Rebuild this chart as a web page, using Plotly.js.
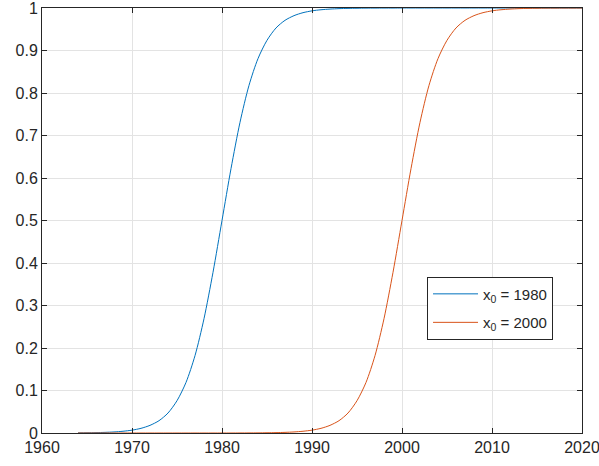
<!DOCTYPE html>
<html>
<head>
<meta charset="utf-8">
<script src="https://cdn.plot.ly/plotly-3.0.1.min.js"></script>
<style>
  html, body { margin: 0; padding: 0; background: #fff; }
  #chart { width: 599px; height: 466px; }
</style>
</head>
<body>
<div id="chart"></div>
<script>
// Years sampled along both curves
const years = [
  1964, 1965, 1966, 1967, 1968, 1969, 1970, 1971, 1972, 1973,
  1974, 1975, 1976, 1977, 1978, 1979, 1980, 1981, 1982, 1983,
  1984, 1985, 1986, 1987, 1988, 1989, 1990, 1991, 1992, 1993,
  1994, 1995, 1996, 1997, 1998, 1999, 2000, 2001, 2002, 2003,
  2004, 2005, 2006, 2007, 2008, 2009, 2010, 2011, 2012, 2013,
  2014, 2015, 2016, 2017, 2018, 2019, 2020
];

// S-curve centred on 1980
const curve1980 = [
  0.0003, 0.0006, 0.0009, 0.0015, 0.0025, 0.0041, 0.0067, 0.011, 0.018, 0.029,
  0.047, 0.076, 0.119, 0.182, 0.269, 0.378, 0.500, 0.622, 0.731, 0.818,
  0.881, 0.924, 0.953, 0.971, 0.982, 0.989, 0.9933, 0.9959, 0.9975, 0.9985,
  0.9991, 0.9994, 0.9997, 0.9998, 0.9999, 0.9999, 1.0, 1.0, 1.0, 1.0,
  1.0, 1.0, 1.0, 1.0, 1.0, 1.0, 1.0, 1.0, 1.0, 1.0,
  1.0, 1.0, 1.0, 1.0, 1.0, 1.0, 1.0
];

// S-curve centred on 2000
const curve2000 = [
  0.0, 0.0, 0.0, 0.0, 0.0, 0.0, 0.0, 0.0, 0.0, 0.0,
  0.0, 0.0, 0.0, 0.0, 0.0, 0.0, 0.0, 0.0, 0.0001, 0.0002,
  0.0003, 0.0006, 0.0009, 0.0015, 0.0025, 0.0041, 0.0067, 0.011, 0.018, 0.029,
  0.047, 0.076, 0.119, 0.182, 0.269, 0.378, 0.500, 0.622, 0.731, 0.818,
  0.881, 0.924, 0.953, 0.971, 0.982, 0.989, 0.9933, 0.9959, 0.9975, 0.9985,
  0.9991, 0.9994, 0.9997, 0.9998, 0.9999, 0.9999, 1.0
];

const seriesNames = ['x<sub>0</sub> = 1980', 'x<sub>0</sub> = 2000'];
const seriesColors = ['#0072BD', '#D95319'];

const xTicks = [1960, 1970, 1980, 1990, 2000, 2010, 2020];
const yTicks = [0, 0.1, 0.2, 0.3, 0.4, 0.5, 0.6, 0.7, 0.8, 0.9, 1];
const yTickText = ['0', '0.1', '0.2', '0.3', '0.4', '0.5', '0.6', '0.7', '0.8', '0.9', '1'];

const traces = [curve1980, curve2000].map((ys, i) => ({
  x: years,
  y: ys,
  type: 'scatter',
  mode: 'lines',
  name: seriesNames[i],
  legendgroup: 'g' + i,
  line: { color: seriesColors[i], width: 1, shape: 'spline', smoothing: 0.8 }
}));

const axisCommon = {
  showline: true,
  linecolor: '#262626',
  linewidth: 1,
  mirror: 'allticks',
  ticks: 'inside',
  ticklen: 5,
  tickwidth: 1,
  tickcolor: '#262626',
  showgrid: true,
  gridcolor: '#e3e3e3',
  gridwidth: 1,
  zeroline: false,
  ticklabeloverflow: 'allow',
  tickfont: { family: 'Liberation Sans, Arial, sans-serif', size: 16, color: '#262626' }
};

const layout = {
  width: 599,
  height: 466,
  margin: { l: 42, r: 17, t: 8, b: 33 },
  paper_bgcolor: '#ffffff',
  plot_bgcolor: '#ffffff',
  showlegend: true,
  xaxis: Object.assign({}, axisCommon, {
    range: [1960, 2020.0001],
    tickvals: xTicks,
    ticktext: xTicks.map(String)
  }),
  yaxis: Object.assign({}, axisCommon, {
    range: [0, 1.00001],
    tickvals: yTicks,
    ticktext: yTickText
  }),
  legend: {
    x: 0.713,
    y: 0.368,
    xanchor: 'left',
    yanchor: 'top',
    bgcolor: '#ffffff',
    bordercolor: '#262626',
    borderwidth: 1,
    itemwidth: 45,
    font: { family: 'Liberation Sans, Arial, sans-serif', size: 15, color: '#262626' },
    tracegroupgap: 6
  }
};

Plotly.newPlot('chart', traces, layout, { displayModeBar: false, staticPlot: true });
</script>
</body>
</html>
